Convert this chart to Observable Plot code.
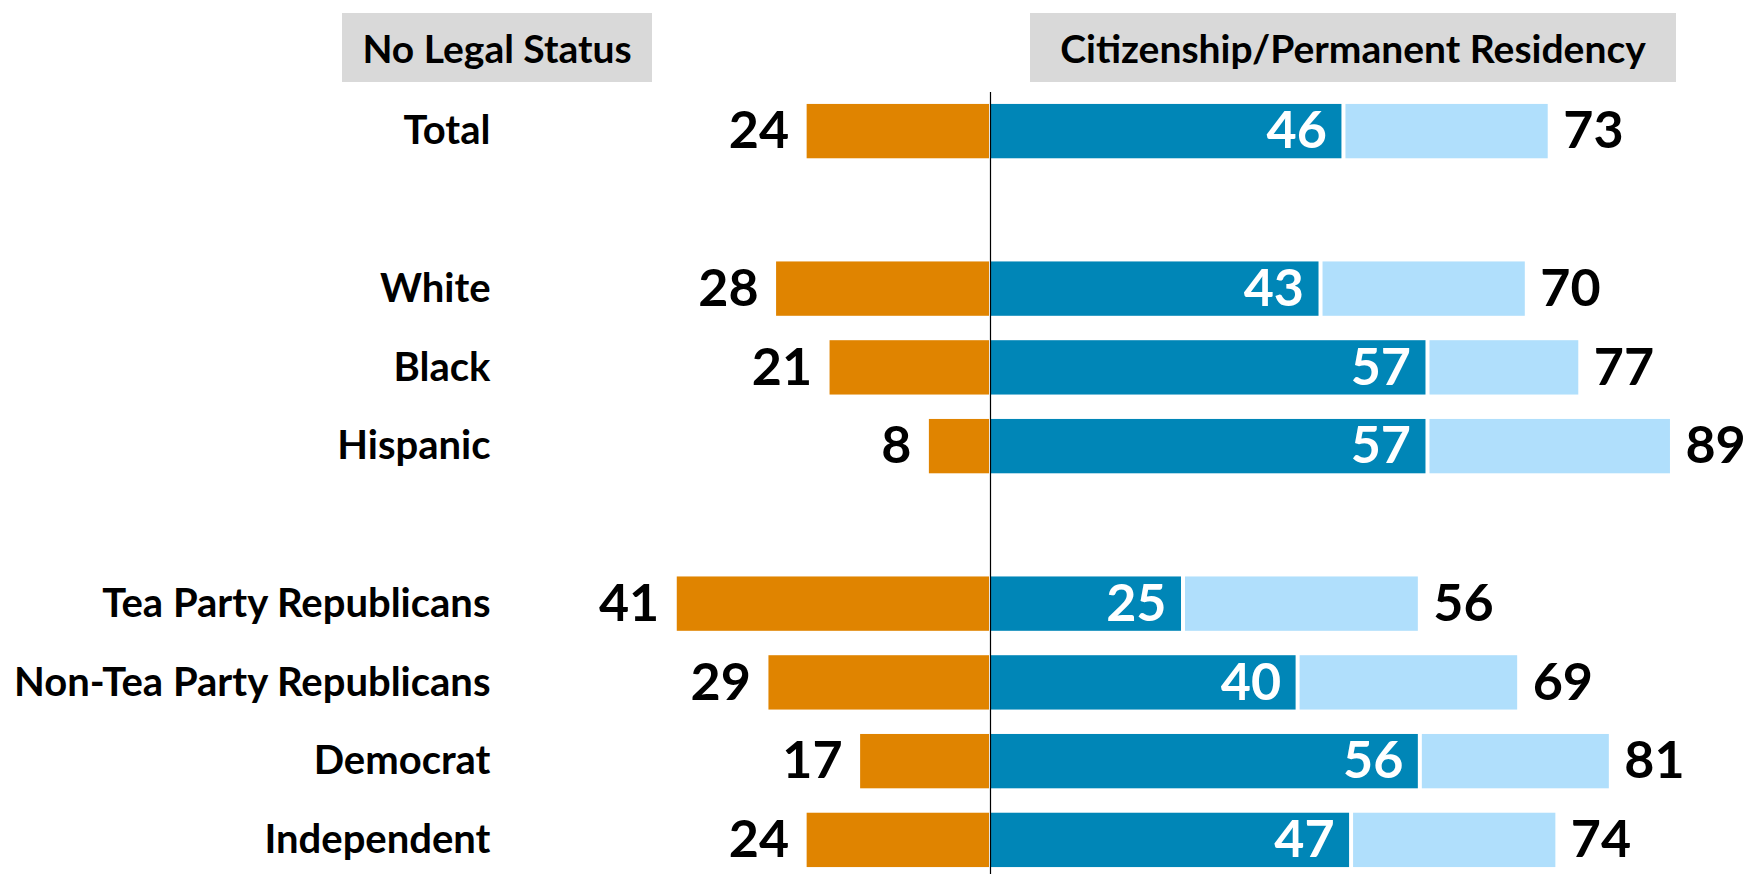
<!DOCTYPE html>
<html>
<head>
<meta charset="utf-8">
<script src="https://cdn.jsdelivr.net/npm/d3@7"></script>
<script src="https://cdn.jsdelivr.net/npm/@observablehq/plot@0.6"></script>
<style>
  html, body { margin: 0; padding: 0; background: #fff; }
  #wrap { width: 1748px; height: 874px; position: relative; font-family: Lato, "Open Sans", sans-serif; }
  #head { position: relative; height: 92px; width: 1748px; }
  .hbox { position: absolute; top: 13px; height: 69px; background: #d9d9d9; display: flex; align-items: center; justify-content: center; font-weight: bold; font-size: 39px; color: #000; }
  #chart svg { display: block; }
</style>
</head>
<body>
<div id="wrap">
  <div id="head">
    <div class="hbox" id="h1" style="left:342px;width:310px;"></div>
    <div class="hbox" id="h2" style="left:1030px;width:646px;"></div>
  </div>
  <div id="chart"></div>
</div>
<script>
const headers = ["No Legal Status", "Citizenship/Permanent Residency"];
const categories = ["Total", "_gap1", "White", "Black", "Hispanic", "_gap2",
  "Tea Party Republicans", "Non-Tea Party Republicans", "Democrat", "Independent"];
const groups = ["Total", "White", "Black", "Hispanic",
  "Tea Party Republicans", "Non-Tea Party Republicans", "Democrat", "Independent"];
const noLegal = [24, 28, 21, 8, 41, 29, 17, 24];
const citizenship = [46, 43, 57, 57, 25, 40, 56, 47];
const totalLegal = [73, 70, 77, 89, 56, 69, 81, 74];

document.getElementById("h1").textContent = headers[0];
document.getElementById("h2").textContent = headers[1];

const data = groups.map((g, i) => ({g, no: noLegal[i], cit: citizenship[i], tot: totalLegal[i]}));

const ORANGE = "#e08400", DARK = "#0086b7", LIGHT = "#b0dffc";
const W = 1748, H = 782, mt = 8, mb = 3, ml = 496, mr = 0;
const pxPerUnit = 7.64, zeroPx = 990;
const xMin = -(zeroPx - ml) / pxPerUnit;
const xMax = (W - mr - zeroPx) / pxPerUnit;

const chart = Plot.plot({
  width: W,
  height: H,
  marginTop: mt,
  marginBottom: mb,
  marginLeft: ml,
  marginRight: mr,
  style: {fontFamily: "Lato, 'Open Sans', sans-serif", background: "#fff"},
  x: {domain: [xMin, xMax], axis: null},
  y: {domain: categories, paddingInner: 0.31, paddingOuter: 0.05, round: false, label: null},
  marks: [
    Plot.axisY({tickSize: 0, tickPadding: 6, fontSize: 40, fontWeight: "bold", fill: "#000",
      tickFormat: d => d.startsWith("_") ? "" : d, label: null}),
    Plot.barX(data, {y: "g", x1: d => -d.no, x2: 0, fill: ORANGE, insetRight: 1}),
    Plot.barX(data, {y: "g", x1: 0, x2: "cit", fill: DARK, insetLeft: 1}),
    Plot.barX(data, {y: "g", x1: "cit", x2: "tot", fill: LIGHT, insetLeft: 4}),
    Plot.ruleX([0], {stroke: "#000", strokeWidth: 1.2, insetTop: -mt, insetBottom: -mb}),
    Plot.text(data, {y: "g", x: d => -d.no, text: "no", textAnchor: "end", dx: -18,
      fontSize: 52, fontWeight: "bold", fill: "#000"}),
    Plot.text(data, {y: "g", x: "cit", text: "cit", textAnchor: "end", dx: -15,
      fontSize: 52, fontWeight: "bold", fill: "#fff"}),
    Plot.text(data, {y: "g", x: "tot", text: "tot", textAnchor: "start", dx: 15,
      fontSize: 52, fontWeight: "bold", fill: "#000"})
  ]
});
document.getElementById("chart").appendChild(chart);
</script>
</body>
</html>
